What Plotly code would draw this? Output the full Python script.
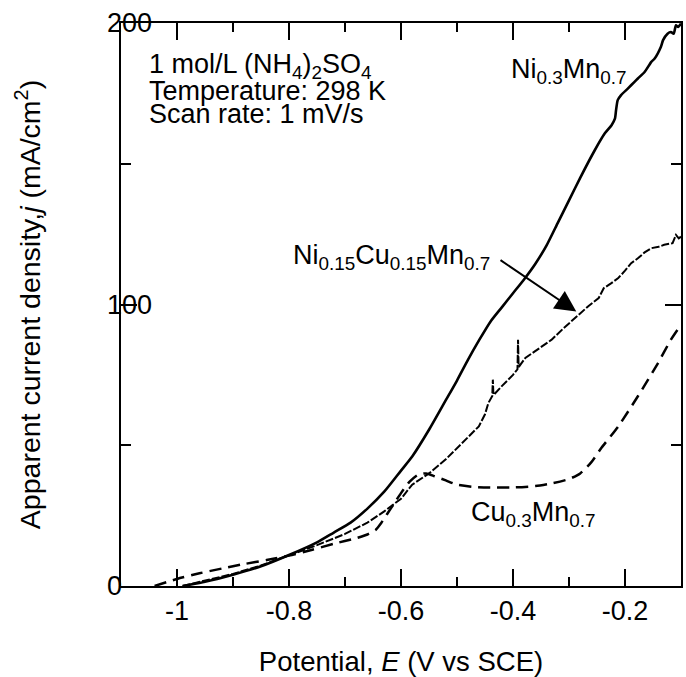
import plotly.graph_objects as go

# ---- data ----
E_ni = [-0.99, -0.95, -0.90, -0.85, -0.80, -0.75, -0.72, -0.69, -0.66, -0.63, -0.60, -0.58,
        -0.55, -0.52, -0.50, -0.48, -0.46, -0.44, -0.42, -0.40, -0.38, -0.36, -0.34, -0.32,
        -0.30, -0.28, -0.254, -0.236, -0.224, -0.218, -0.216, -0.213, -0.207, -0.195, -0.183,
        -0.177, -0.165, -0.153, -0.147, -0.136, -0.132, -0.124, -0.118, -0.113, -0.109, -0.105, -0.100]
j_ni = [0, 1.5, 4.0, 7.0, 11.0, 15.5, 19.0, 22.5, 27.5, 33.5, 41.0, 46.0,
        55.5, 66.0, 73.0, 80.5, 87.5, 94.0, 99.0, 104.0, 109.0, 114.5, 121.0, 129.0,
        137.0, 145.0, 154.8, 160.8, 163.7, 166.0, 169.0, 172.6, 174.4, 176.7, 179.1,
        180.3, 182.6, 186.2, 187.4, 191.5, 193.9, 196.2, 196.8, 196.2, 199.2, 198.6, 199.8]

E_nicu = [-0.99, -0.95, -0.90, -0.85, -0.80, -0.75, -0.70, -0.66, -0.63, -0.61, -0.60, -0.58,
          -0.55, -0.52, -0.485, -0.461, -0.45, -0.444, -0.437, -0.436, -0.435, -0.434, -0.42,
          -0.40, -0.392, -0.391, -0.390, -0.389, -0.378, -0.36, -0.331, -0.31, -0.284, -0.265,
          -0.247, -0.238, -0.225, -0.212, -0.20, -0.189, -0.177, -0.165, -0.153, -0.14, -0.130,
          -0.115, -0.109, -0.104, -0.100]
j_nicu = [0, 1.8, 4.3, 7.3, 10.8, 14.5, 18.5, 22.5, 26.5, 29.5, 31.0, 36.0,
          40.0, 45.0, 52.0, 56.7, 61.0, 65.0, 67.5, 73.3, 68.0, 68.0, 71.0,
          75.0, 77.0, 87.5, 78.0, 78.0, 81.0, 83.5, 87.5, 91.5, 96.3, 99.5,
          102.3, 105.8, 107.5, 109.4, 112.0, 114.7, 116.4, 118.5, 120.0, 120.5, 121.2,
          121.8, 124.7, 123.5, 124.1]

E_cu = [-1.04, -1.00, -0.96, -0.92, -0.88, -0.84, -0.80, -0.76, -0.72, -0.68, -0.66, -0.645,
        -0.635, -0.625, -0.61, -0.60, -0.585, -0.57, -0.555, -0.54, -0.52, -0.50, -0.47, -0.44,
        -0.40, -0.36, -0.33, -0.30, -0.28, -0.26, -0.242, -0.212, -0.177, -0.141, -0.118, -0.100]
j_cu = [0, 2.5, 4.5, 6.2, 7.8, 9.2, 10.8, 12.8, 15.0, 17.0, 18.3, 20.0,
        22.5, 25.5, 30.0, 33.0, 37.0, 39.5, 40.0, 39.0, 37.5, 36.0, 35.2, 35.0,
        35.0, 35.5, 36.5, 38.0, 40.0, 44.0, 49.1, 56.7, 67.4, 79.2, 87.5, 92.8]

x_tickvals = [-1.0, -0.8, -0.6, -0.4, -0.2]
x_ticktext = ["-1", "-0.8", "-0.6", "-0.4", "-0.2"]
y_tickvals = [0, 100, 200]
y_ticktext = ["0", "100", "200"]

FONT = "Liberation Sans, Arial, sans-serif"

fig = go.Figure()
fig.add_trace(go.Scatter(x=E_ni, y=j_ni, mode="lines",
                         line=dict(color="black", width=2.6, shape="spline", smoothing=0.6),
                         showlegend=False))
fig.add_trace(go.Scatter(x=E_nicu, y=j_nicu, mode="lines",
                         line=dict(color="black", width=2, dash="8px,2px"), showlegend=False))
fig.add_trace(go.Scatter(x=E_cu, y=j_cu, mode="lines",
                         line=dict(color="black", width=2.5, dash="12px,7px",
                                   shape="spline", smoothing=0.6),
                         showlegend=False))

ann = []
# y tick labels (left-aligned, overlapping the axis as in the reference)
for v, t in zip(y_tickvals, y_ticktext):
    ann.append(dict(x=0, xref="paper", y=v, yref="y", text=t, showarrow=False,
                    xanchor="left", yanchor="middle", xshift=-16,
                    font=dict(size=27, color="black", family=FONT)))

txt_font = dict(size=27, color="black", family=FONT)
ann.append(dict(x=-1.053, y=184.6, text="1 mol/L (NH<sub>4</sub>)<sub>2</sub>SO<sub>4</sub>",
                showarrow=False, xanchor="left", yanchor="middle", font=txt_font))
ann.append(dict(x=-1.053, y=176.0, text="Temperature: 298 K",
                showarrow=False, xanchor="left", yanchor="middle", font=txt_font))
ann.append(dict(x=-1.053, y=167.6, text="Scan rate: 1 mV/s",
                showarrow=False, xanchor="left", yanchor="middle", font=txt_font))
ann.append(dict(x=-0.407, y=183.0, text="Ni<sub>0.3</sub>Mn<sub>0.7</sub>",
                showarrow=False, xanchor="left", yanchor="middle", font=txt_font))
ann.append(dict(x=-0.797, y=117.0, text="Ni<sub>0.15</sub>Cu<sub>0.15</sub>Mn<sub>0.7</sub>",
                showarrow=False, xanchor="left", yanchor="middle", font=txt_font))
ann.append(dict(x=-0.479, y=25.5, text="Cu<sub>0.3</sub>Mn<sub>0.7</sub>",
                showarrow=False, xanchor="left", yanchor="middle", font=txt_font))
# arrow
ann.append(dict(x=-0.287, y=97.5, ax=-0.425, ay=116.1, axref="x", ayref="y",
                xref="x", yref="y", text="", showarrow=True,
                arrowhead=2, arrowsize=2.1, arrowwidth=2, arrowcolor="black"))

fig.update_layout(
    width=686, height=677,
    margin=dict(l=121, r=3, t=23, b=91),
    paper_bgcolor="white", plot_bgcolor="white",
    font=dict(family=FONT, size=27, color="black"),
    annotations=ann,
    showlegend=False,
)
fig.update_xaxes(
    range=[-1.1, -0.1], showgrid=False, zeroline=False,
    showline=True, linecolor="black", linewidth=2, mirror="ticks",
    ticks="inside", ticklen=17, tickwidth=2, tickcolor="black",
    tickvals=x_tickvals, ticktext=x_ticktext,
    tickfont=dict(size=27, family=FONT, color="black"),
    minor=dict(ticks="inside", ticklen=9, tickwidth=2, tickcolor="black", dtick=0.1, showgrid=False),
    title=dict(text="Potential, <i>E</i> (V vs SCE)", font=dict(size=27.5, family=FONT, color="black"), standoff=26),
)
fig.update_yaxes(
    range=[0, 200], showgrid=False, zeroline=False,
    showline=True, linecolor="black", linewidth=2, mirror="ticks",
    ticks="inside", ticklen=16, tickwidth=2, tickcolor="black",
    tickvals=y_tickvals, showticklabels=False,
    minor=dict(ticks="inside", ticklen=10, tickwidth=2, tickcolor="black", dtick=50, showgrid=False),
    title=dict(text="Apparent current density,<i>j</i> (mA/cm<sup>2</sup>)",
               font=dict(size=28.5, family=FONT, color="black"), standoff=70),
)

fig.write_html("out.html")
